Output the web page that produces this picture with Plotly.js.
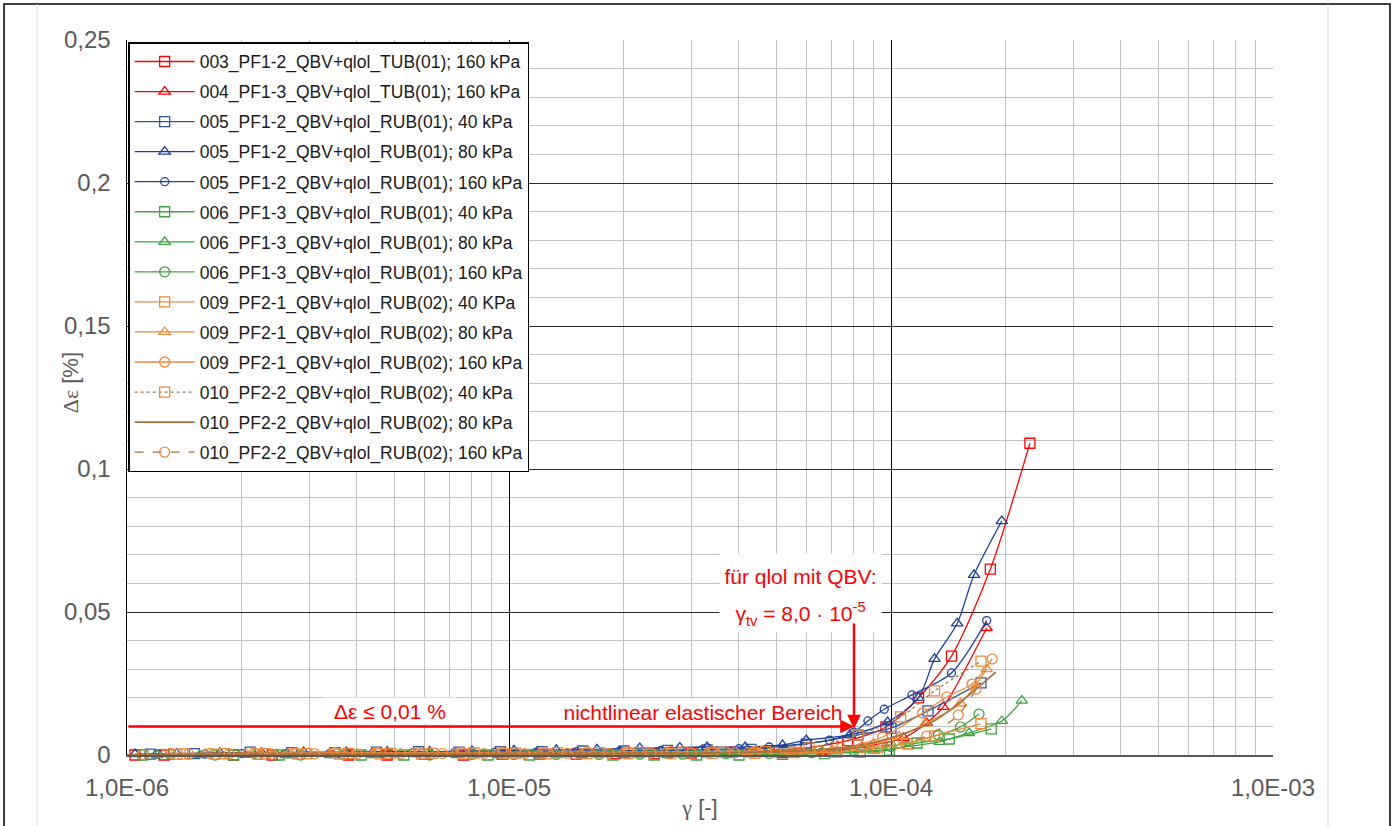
<!DOCTYPE html>
<html>
<head>
<meta charset="utf-8">
<script src="https://cdn.plot.ly/plotly-3.0.1.min.js"></script>
<style>html,body{margin:0;padding:0;background:#fff;}#chart{width:1395px;height:826px;}</style>
</head>
<body>
<div id="chart"></div>
<script>
// ---------- data ----------
const names = [
  "003_PF1-2_QBV+qlol_TUB(01); 160 kPa",
  "004_PF1-3_QBV+qlol_TUB(01); 160 kPa",
  "005_PF1-2_QBV+qlol_RUB(01); 40 kPa",
  "005_PF1-2_QBV+qlol_RUB(01); 80 kPa",
  "005_PF1-2_QBV+qlol_RUB(01); 160 kPa",
  "006_PF1-3_QBV+qlol_RUB(01); 40 kPa",
  "006_PF1-3_QBV+qlol_RUB(01); 80 kPa",
  "006_PF1-3_QBV+qlol_RUB(01); 160 kPa",
  "009_PF2-1_QBV+qlol_RUB(02); 40 KPa",
  "009_PF2-1_QBV+qlol_RUB(02); 80 kPa",
  "009_PF2-1_QBV+qlol_RUB(02); 160 kPa",
  "010_PF2-2_QBV+qlol_RUB(02); 40 kPa",
  "010_PF2-2_QBV+qlol_RUB(02); 80 kPa",
  "010_PF2-2_QBV+qlol_RUB(02); 160 kPa"
];

const x003 = [1.05e-6,1.25e-6,1.55e-6,1.9e-6,2.4e-6,3.0e-6,3.8e-6,4.8e-6,6.0e-6,7.6e-6,9.6e-6,1.2e-5,1.5e-5,1.9e-5,2.4e-5,3.0e-5,3.8e-5,4.8e-5,6.0e-5,7.7e-5,9.7e-5,1.18e-4,1.44e-4,1.82e-4,2.31e-4];
const y003 = [0,0,-0.0002,0,0,-0.0002,0,0,0.0002,0,0.0002,0.0003,0.0003,0.0005,0.0005,0.0007,0.001,0.0015,0.0025,0.005,0.0098,0.020,0.0346,0.065,0.109];

const x004 = [1.1e-6,1.4e-6,1.8e-6,2.3e-6,2.9e-6,3.7e-6,4.7e-6,6.0e-6,7.6e-6,9.7e-6,1.23e-5,1.56e-5,2.0e-5,2.5e-5,3.2e-5,4.1e-5,5.2e-5,6.6e-5,8.4e-5,1.08e-4,1.24e-4,1.37e-4,1.78e-4];
const y004 = [-0.0005,-0.0004,-0.0005,-0.0004,-0.0005,-0.0004,-0.0005,-0.0004,-0.0005,-0.0004,-0.0005,-0.0004,-0.0004,-0.0003,-0.0003,-0.0002,0,0.001,0.0028,0.006,0.0112,0.0168,0.0444];

const x005a = [1.15e-6,1.5e-6,2.1e-6,2.7e-6,3.5e-6,4.5e-6,5.8e-6,7.4e-6,9.5e-6,1.22e-5,1.56e-5,2.0e-5,2.6e-5,3.3e-5,4.3e-5,6.0e-5,8.2e-5,1.0e-4,1.25e-4,1.72e-4];
const y005a = [0.0003,0.0005,0.001,0.0008,0.0008,0.001,0.0012,0.001,0.0012,0.0012,0.0014,0.0014,0.0016,0.0018,0.002,0.0038,0.007,0.0094,0.0154,0.0252];

const x005b = [1.05e-6,1.35e-6,1.75e-6,2.25e-6,2.9e-6,3.75e-6,4.8e-6,6.2e-6,8.0e-6,1.03e-5,1.33e-5,1.7e-5,2.2e-5,2.8e-5,3.3e-5,4.15e-5,5.2e-5,6.0e-5,7.8e-5,9.8e-5,1.18e-4,1.3e-4,1.49e-4,1.65e-4,1.95e-4];
const y005b = [0.0003,0.0005,0.0008,0.0008,0.001,0.001,0.0012,0.0012,0.0014,0.0016,0.0018,0.002,0.0024,0.0026,0.0028,0.0028,0.0035,0.0052,0.007,0.0115,0.020,0.0336,0.046,0.063,0.0818];

const x005c = [1.2e-6,1.6e-6,2.0e-6,2.6e-6,3.4e-6,4.4e-6,5.6e-6,7.2e-6,9.2e-6,1.18e-5,1.5e-5,1.95e-5,2.5e-5,3.2e-5,4.0e-5,4.8e-5,6.9e-5,8.0e-5,8.7e-5,9.6e-5,1.135e-4,1.44e-4,1.78e-4];
const y005c = [0.0003,0.0003,0.0005,0.0005,0.0006,0.0006,0.0008,0.0008,0.001,0.001,0.0012,0.0014,0.0016,0.0018,0.0022,0.0028,0.0052,0.008,0.0119,0.016,0.021,0.0287,0.047];

const x006a = [1.1e-6,1.45e-6,1.9e-6,2.5e-6,3.2e-6,4.1e-6,5.3e-6,6.8e-6,8.8e-6,1.13e-5,1.45e-5,1.87e-5,2.4e-5,3.1e-5,4.0e-5,5.2e-5,6.7e-5,8.3e-5,9.9e-5,1.17e-4,1.42e-4,1.83e-4];
const y006a = [0,-0.0002,0,0,-0.0002,0,0,-0.0002,0,0,-0.0002,0,0,0,0,0.0002,0.0005,0.001,0.0017,0.0042,0.0056,0.0091];

const x006b = [1.2e-6,1.55e-6,2.0e-6,2.6e-6,3.4e-6,4.4e-6,5.7e-6,7.3e-6,9.4e-6,1.2e-5,1.55e-5,2.0e-5,2.6e-5,3.3e-5,4.3e-5,5.6e-5,7.2e-5,9.0e-5,1.11e-4,1.34e-4,1.6e-4,1.95e-4,2.2e-4];
const y006b = [0,0,-0.0002,0,0,0,-0.0002,0,0,0,0,0,0,0.0002,0.0002,0.0005,0.0008,0.0015,0.003,0.0046,0.0077,0.0119,0.019];

const x006c = [0.98e-6,1.3e-6,1.7e-6,2.2e-6,2.85e-6,3.7e-6,4.8e-6,6.2e-6,8.0e-6,1.03e-5,1.33e-5,1.72e-5,2.2e-5,2.85e-5,3.7e-5,4.8e-5,6.2e-5,8.0e-5,1.0e-4,1.33e-4,1.52e-4,1.7e-4];
const y006c = [0,0.0002,0,0.0002,0,0.0002,0.0002,0,0.0002,0.0002,0.0002,0.0002,0.0003,0.0003,0.0004,0.0005,0.0008,0.0015,0.003,0.007,0.0098,0.0143];

const x009a = [1.35e-6,1.7e-6,2.2e-6,2.8e-6,3.6e-6,4.6e-6,5.9e-6,7.6e-6,9.7e-6,1.25e-5,1.6e-5,2.05e-5,2.65e-5,3.4e-5,4.4e-5,5.6e-5,7.2e-5,9.2e-5,1.1e-4,1.3e-4,1.72e-4];
const y009a = [0.0002,0.0003,0.0002,0.0003,0.0003,0.0004,0.0003,0.0004,0.0004,0.0004,0.0005,0.0005,0.0005,0.0006,0.0006,0.0008,0.001,0.0025,0.004,0.0067,0.011];

const x009b = [1.25e-6,1.6e-6,2.05e-6,2.65e-6,3.4e-6,4.4e-6,5.6e-6,7.2e-6,9.3e-6,1.2e-5,1.54e-5,1.98e-5,2.55e-5,3.3e-5,4.2e-5,5.4e-5,7.0e-5,9.0e-5,1.05e-4,1.23e-4,1.52e-4,1.78e-4];
const y009b = [0.0003,0.0004,0.0004,0.0005,0.0005,0.0005,0.0006,0.0006,0.0006,0.0007,0.0007,0.0008,0.0008,0.0009,0.001,0.0012,0.0018,0.004,0.0065,0.011,0.018,0.030];

const x009c = [1.3e-6,1.65e-6,2.15e-6,2.75e-6,3.5e-6,4.5e-6,5.8e-6,7.5e-6,9.6e-6,1.24e-5,1.6e-5,2.05e-5,2.65e-5,3.4e-5,4.4e-5,5.7e-5,7.4e-5,9.5e-5,1.21e-4,1.4e-4,1.63e-4,1.84e-4];
const y009c = [0.0006,0.0006,0.0007,0.0007,0.0008,0.0008,0.0009,0.0009,0.001,0.001,0.0011,0.0011,0.0012,0.0012,0.0013,0.0016,0.0025,0.0063,0.0147,0.0203,0.0248,0.0336];

const x010a = [1.4e-6,1.8e-6,2.3e-6,2.95e-6,3.8e-6,4.9e-6,6.3e-6,8.1e-6,1.04e-5,1.34e-5,1.72e-5,2.2e-5,2.85e-5,3.65e-5,4.7e-5,6.1e-5,8.2e-5,1.06e-4,1.3e-4,1.72e-4];
const y010a = [0.0004,0.0005,0.0005,0.0005,0.0006,0.0006,0.0006,0.0007,0.0007,0.0008,0.0008,0.0009,0.001,0.001,0.0012,0.0025,0.007,0.0133,0.0224,0.0328];

const x010b = [1.0e-6,2.0e-6,4.0e-6,8.0e-6,1.5e-5,2.5e-5,4.0e-5,6.0e-5,8.0e-5,1.0e-4,1.3e-4,1.6e-4,1.88e-4];
const y010b = [0,0.0001,0.0002,0.0003,0.0004,0.0005,0.0008,0.0015,0.003,0.006,0.012,0.021,0.029];

const x010c = [1.1e-6,1.45e-6,1.85e-6,2.4e-6,3.1e-6,4.0e-6,5.2e-6,6.7e-6,8.6e-6,1.1e-5,1.42e-5,1.83e-5,2.35e-5,3.0e-5,3.9e-5,5.0e-5,6.5e-5,8.4e-5,1.04e-4,1.24e-4,1.5e-4,1.67e-4];
const y010c = [0.0002,0.0003,0.0003,0.0003,0.0004,0.0004,0.0004,0.0005,0.0005,0.0005,0.0006,0.0006,0.0007,0.0007,0.0008,0.001,0.0015,0.0025,0.004,0.0066,0.014,0.023];

const xTickVals = [1e-6, 1e-5, 1e-4, 1e-3];
const xTickText = ["1,0E-06", "1,0E-05", "1,0E-04", "1,0E-03"];
const yTickVals = [0, 0.05, 0.1, 0.15, 0.2, 0.25];
const yTickText = ["0", "0,05", "0,1", "0,15", "0,2", "0,25"];

const gammaTv = 8.0e-5;     // threshold strain
const epsLimit = 0.01;      // Δε limit [%]

// ---------- styles ----------
const RED = "#FF0000", BLUE1 = "#2F56A8", BLUE2 = "#1A3C9A", BLUE3 = "#1F449C";
const GRN = "#3FA33F", ORG = "#F08838", BRN = "#A5733F";

const seriesX = [x003,x004,x005a,x005b,x005c,x006a,x006b,x006c,x009a,x009b,x009c,x010a,x010b,x010c];
const seriesY = [y003,y004,y005a,y005b,y005c,y006a,y006b,y006c,y009a,y009b,y009c,y010a,y010b,y010c];
const styles = [
  {lc: RED,  mc: RED,  sym: "square-open",      dash: "solid", size: 10},
  {lc: RED,  mc: RED,  sym: "triangle-up-open", dash: "solid", size: 10},
  {lc: BLUE1,mc: BLUE1,sym: "square-open",      dash: "solid", size: 10},
  {lc: BLUE2,mc: BLUE2,sym: "triangle-up-open", dash: "solid", size: 10},
  {lc: BLUE3,mc: BLUE3,sym: "circle-open",      dash: "solid", size: 8},
  {lc: GRN,  mc: GRN,  sym: "square-open",      dash: "solid", size: 10},
  {lc: GRN,  mc: GRN,  sym: "triangle-up-open", dash: "solid", size: 10},
  {lc: GRN,  mc: GRN,  sym: "circle-open",      dash: "solid", size: 10},
  {lc: ORG,  mc: ORG,  sym: "square-open",      dash: "solid", size: 10},
  {lc: ORG,  mc: ORG,  sym: "triangle-up-open", dash: "solid", size: 10},
  {lc: ORG,  mc: ORG,  sym: "circle-open",      dash: "solid", size: 10},
  {lc: BRN,  mc: ORG,  sym: "square-open",      dash: "dot",   size: 10},
  {lc: BRN,  mc: null, sym: null,               dash: "solid", size: 0},
  {lc: BRN,  mc: ORG,  sym: "circle-open",      dash: "dash",  size: 10}
];

const traces = names.map((n, i) => {
  const s = styles[i];
  const t = {
    type: "scatter",
    x: seriesX[i], y: seriesY[i], name: n,
    legendgroup: "g" + i,
    mode: s.sym ? "lines+markers" : "lines",
    line: {color: s.lc, width: i === 12 ? 1.8 : 1.3, dash: s.dash, shape: "spline", smoothing: 0.8},
    cliponaxis: false
  };
  if (s.sym) t.marker = {symbol: s.sym, size: s.size, color: s.mc, line: {color: s.mc, width: 1.3}};
  return t;
});

const fontFam = "Liberation Sans, Arial, sans-serif";
const annFont = {family: fontFam, size: 21, color: RED};
const lgTv = Math.log10(gammaTv);

const layout = {
  width: 1395, height: 826,
  margin: {l: 127, r: 122, t: 40, b: 71, pad: 0},
  paper_bgcolor: "#ffffff", plot_bgcolor: "#ffffff",
  font: {family: fontFam, color: "#595959"},
  showlegend: true,
  legend: {
    x: 0.001, y: 0.997, xanchor: "left", yanchor: "top",
    bgcolor: "#ffffff", bordercolor: "#000000", borderwidth: 1.5,
    font: {family: fontFam, size: 17.5, color: "#1a1a1a"},
    traceorder: "grouped", tracegroupgap: 4.3, itemwidth: 60
  },
  xaxis: {
    type: "log", range: [-6, -3],
    tickvals: xTickVals, ticktext: xTickText,
    tickfont: {family: fontFam, size: 24, color: "#595959"},
    ticks: "", ticklabelstandoff: 10,
    showgrid: true, gridcolor: "#000000", gridwidth: 1,
    minor: {dtick: "D1", showgrid: true, gridcolor: "#c0c0c0", gridwidth: 1, ticks: ""},
    showline: true, linecolor: "#595959", linewidth: 2,
    zeroline: false,
    title: {text: "<span style=\"font-family:Liberation Serif\">γ</span> [-]", font: {family: fontFam, size: 22, color: "#595959"}, standoff: 0}
  },
  yaxis: {
    range: [0, 0.25],
    tickvals: yTickVals, ticktext: yTickText,
    tickfont: {family: fontFam, size: 24, color: "#595959"},
    ticks: "", ticklabelstandoff: 10,
    showgrid: true, gridcolor: "#2a2a2a", gridwidth: 1,
    minor: {dtick: 0.01, showgrid: true, gridcolor: "#c0c0c0", gridwidth: 1, ticks: ""},
    showline: true, linecolor: "#000000", linewidth: 1.5,
    zeroline: false
  },
  shapes: [
    {type: "rect", xref: "paper", yref: "paper", x0: -0.1073, x1: 1.1021, y0: -0.11, y1: 1.0503,
     line: {color: "#000000", width: 1.5}, fillcolor: "rgba(0,0,0,0)", layer: "below"},
    {type: "line", xref: "paper", yref: "paper", x0: -0.0785, x1: -0.0785, y0: -0.11, y1: 1.0503,
     line: {color: "#d9d9d9", width: 1}, layer: "below"},
    {type: "line", xref: "paper", yref: "paper", x0: 1.0480, x1: 1.0480, y0: -0.11, y1: 1.0503,
     line: {color: "#d9d9d9", width: 1}, layer: "below"}
  ],
  annotations: [
    // y-axis title
    {xref: "paper", yref: "paper", x: -0.0497, y: 0.52, xanchor: "center", yanchor: "middle",
     text: "<span style=\"font-family:Liberation Serif\">Δε</span> [%]",
     textangle: -90, showarrow: false, font: {family: fontFam, size: 22, color: "#595959"}},
    // labels with white boxes
    {x: -5.311, y: 0.0154, xref: "x", yref: "y", text: "Δε ≤ 0,01 %", showarrow: false,
     font: annFont, bgcolor: "#ffffff", width: 130, height: 24},
    {x: -4.492, y: 0.0151, xref: "x", yref: "y", text: "nichtlinear elastischer Bereich", showarrow: false,
     font: annFont, bgcolor: "#ffffff", width: 298, height: 24},
    {x: -4.238, y: 0.0625, xref: "x", yref: "y", text: "für qlol mit QBV:", showarrow: false,
     font: annFont, bgcolor: "#ffffff", width: 159, height: 42},
    {x: -4.238, y: 0.0492, xref: "x", yref: "y", text: "γ<sub>tv</sub> = 8,0 · 10<sup>-5</sup>", showarrow: false,
     font: annFont, bgcolor: "#ffffff", width: 159, height: 34},
    // horizontal arrow at Δε = 0.01 %
    {x: lgTv, y: epsLimit, ax: -6, ay: epsLimit, xref: "x", yref: "y", axref: "x", ayref: "y",
     text: "", showarrow: true, arrowhead: 2, arrowsize: 1.1, arrowwidth: 2.5, arrowcolor: RED},
    // vertical arrow at γ_tv
    {x: lgTv, y: 0.0093, ax: lgTv, ay: 0.0465, xref: "x", yref: "y", axref: "x", ayref: "y",
     text: "", showarrow: true, arrowhead: 2, arrowsize: 1.1, arrowwidth: 2.5, arrowcolor: RED}
  ]
};

Plotly.newPlot("chart", traces, layout, {displayModeBar: false, staticPlot: true});
</script>
</body>
</html>
